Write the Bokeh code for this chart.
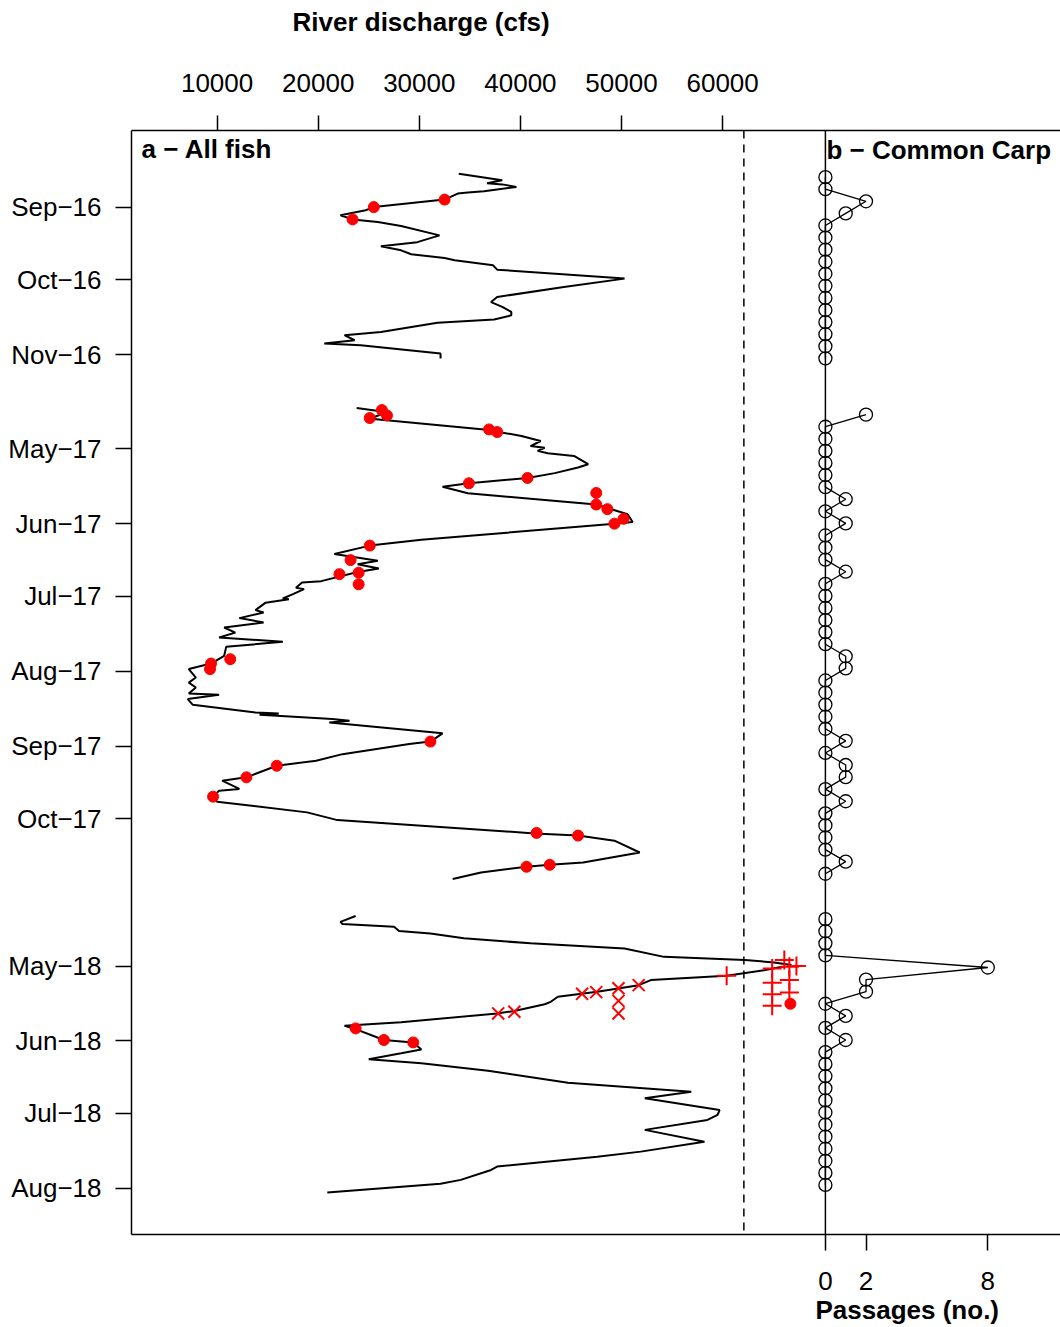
import pandas as pd
from bokeh.plotting import figure
from bokeh.models import Range1d, LinearAxis, FixedTicker, Span, Label, Title
from bokeh.embed import file_html
from bokeh.resources import INLINE

FONT = "Liberation Sans"
FSIZE = "26px"

# ---------------- data ----------------
# Each monitoring season is drawn on a compressed time axis; days are counted from the season anchor.
SEASON_ANCHOR = ["2016-09-01", "2017-05-01", "2018-05-01"]

TICK_SEASON = [0, 0, 0, 1, 1, 1, 1, 1, 1, 2, 2, 2, 2]
TICK_DATES = ["2016-09-01", "2016-10-01", "2016-11-01",
              "2017-05-01", "2017-06-01", "2017-07-01", "2017-08-01", "2017-09-01", "2017-10-01",
              "2018-05-01", "2018-06-01", "2018-07-01", "2018-08-01"]
TICK_LABELS = ["Sep\u221216", "Oct\u221216", "Nov\u221216",
               "May\u221217", "Jun\u221217", "Jul\u221217", "Aug\u221217", "Sep\u221217", "Oct\u221217",
               "May\u221218", "Jun\u221218", "Jul\u221218", "Aug\u221218"]

Q_TICKS = [10000, 20000, 30000, 40000, 50000, 60000]
N_TICKS = [0, 2, 8]
THRESHOLD_CFS = 62100

# river discharge (cfs), days from season anchor
S1_DAY = [-13.9, -11.2, -10.0, -9.5, -8.4, -6.7, -6.1, -5.7, -3.2, -0.1, 1.2, 3.3, 5.0, 6.1, 7.7,
          11.6, 14.4, 16.1, 17.8, 19.4, 21.0, 21.9, 24.0, 25.8, 29.5, 33.0, 37.1, 39.2, 41.2, 43.3,
          44.7, 46.4, 47.8, 51.6, 52.9, 55.0, 56.4, 57.1, 60.5, 62.6]
S1_Q = [33900, 38200, 36700, 38200, 39600, 36400, 34800, 33800, 32500, 25500, 24700, 22200, 23400, 25900, 28200,
        32000, 29800, 26200, 28200, 29200, 32500, 33500, 37300, 37700, 50300, 44300, 37700, 37100, 38200, 39100,
        39100, 37400, 31800, 26200, 22600, 23600, 20600, 24200, 32100, 32100]

S2_DAY = [-17.0, -15.3, -12.5, -8.1, -5.4, -3.3, -1.2, -0.5, 0.8, 1.8, 2.9, 6.3, 7.7, 10.0, 12.0,
          14.2, 15.6, 18.3, 20.6, 23.0, 27.0, 30.2, 30.9, 37.6, 40.0, 43.5, 46.3, 47.7, 49.5, 50.9,
          54.7, 55.3, 57.4, 58.0, 60.1, 61.9, 62.2, 63.6, 66.7, 67.7, 70.0, 71.8, 73.9, 76.0, 78.0,
          79.8, 81.9, 85.6, 88.8, 91.1, 94.6, 96.7, 98.7, 101.2, 101.7, 103.5, 105.9, 109.1, 109.5, 110.0,
          111.8, 112.5, 113.2, 117.7, 121.1, 122.1, 126.3, 129.0, 131.1, 135.9, 137.3, 140.7, 141.4, 143.9, 146.0,
          150.4, 153.6, 159.1, 160.0, 162.1, 167.0, 171.1, 172.1, 172.9, 175.3, 178.0]
S2_Q = [23800, 26700, 25200, 36400, 40100, 42000, 41000, 42400, 41700, 42700, 45300, 46700, 45700, 43400, 40700,
        34900, 32300, 34800, 41000, 47500, 50600, 51100, 49300, 30200, 25100, 21600, 25900, 23900, 26000, 23900,
        20300, 18400, 17800, 18600, 17500, 16500, 17100, 14800, 13800, 14600, 12200, 14600, 10700, 11800, 10200,
        16500, 10900, 10700, 9400, 7200, 7900, 7200, 7900, 7200, 10200, 7100, 7600, 13800, 16100, 14200,
        21400, 23100, 21100, 32300, 31100, 29000, 22400, 19800, 15900, 12900, 10500, 12200, 10200, 9600, 10000,
        18900, 21900, 41400, 45700, 49300, 51800, 46200, 42900, 40600, 36100, 33300]

S3_DAY = [-20.7, -18.3, -17.4, -16.3, -14.5, -13.5, -11.5, -9.4, -7.3, -3.8, -2.5, -1.5, -0.4, 1.7, 4.0,
          5.8, 7.9, 10.6, 12.7, 14.8, 15.8, 18.6, 19.6, 23.3, 24.7, 26.1, 30.6, 31.6, 34.5, 36.1,
          38.6, 40.2, 43.3, 48.3, 52.0, 54.7, 59.6, 61.6, 63.7, 67.8, 72.7, 76.8, 78.9, 83.0, 84.4,
          88.5, 90.1, 93.7]
S3_Q = [23700, 22200, 22400, 27500, 28000, 31100, 34400, 41000, 50300, 54200, 62200, 65100, 66800, 64100, 60400,
        52900, 51700, 47600, 43700, 43000, 42400, 39400, 37700, 28200, 22600, 23700, 26500, 29400, 30200, 28200,
        25000, 30200, 36800, 44700, 56900, 52300, 59700, 59500, 58500, 52300, 58200, 51900, 47600, 37700, 37100,
        34100, 32100, 20900]

# fish passages (all fish): season index, day, discharge
DOT_SEASON = [0, 0, 0] + [1] * 28 + [2] * 4
DOT_DAY = [-3.2, -0.1, 5.0,
           -16.1, -13.9, -12.8, -8.1, -7.0, 12.0, 14.2, 18.2, 23.0, 24.9, 28.9, 30.9, 40.0, 46.0,
           51.2, 51.8, 56.0, 87.0, 88.8, 91.1, 121.1, 131.1, 135.9, 143.9, 158.9, 160.0, 172.9, 172.1,
           25.8, 30.6, 31.6, 15.6]
DOT_Q = [32500, 25500, 23400,
         26300, 26800, 25100, 36900, 37700, 40700, 34900, 47500, 47500, 48600, 50200, 49300, 25100, 23200,
         24000, 22100, 24000, 11300, 9400, 9300, 31100, 15900, 12900, 9600, 41600, 45700, 40600, 42900,
         23700, 26500, 29400, 66700]

X_DAY = [19.6, 18.9, 11.5, 10.8, 9.2, 14.4, 19.6, 7.9]          # season 3
X_Q = [37800, 39400, 46100, 47500, 49700, 49700, 49700, 51700]

PLUS_DAY = [4.0, 1.0, 6.9, 11.7, 16.4, 0.3, 5.8, 10.9, -2.5, 0.0]  # season 3
PLUS_Q = [60400, 64900, 64900, 64900, 64900, 66600, 66600, 66600, 66100, 67300]

# Common Carp passages per 5-day bin; first bin start (days from season anchor)
BIN_DAYS = 5
CARP_FIRST_BIN = [-12.5, -14.2, -19.4]
CARP_S1 = [0, 0, 2, 1, 0, 0, 0, 0, 0, 0, 0, 0, 0, 0, 0, 0]
CARP_S2 = [2, 0, 0, 0, 0, 0, 0, 1, 0, 1, 0, 0, 0, 1, 0, 0, 0, 0, 0, 0, 1, 1, 0, 0, 0, 0, 0, 1, 0, 1,
           1, 0, 1, 0, 0, 0, 0, 1, 0]
CARP_S3 = [0, 0, 0, 0, 8, 2, 2, 0, 1, 0, 1, 0, 0, 0, 0, 0, 0, 0, 0, 0, 0, 0, 0]

# ---------------- layout helpers ----------------
SEASON_OFFSET = [0, 100, 314]   # position of each season anchor on the compressed axis


def ypos(season, day):
    return SEASON_OFFSET[season] + day


tick_pos = [int((pd.Timestamp(d) - pd.Timestamp(SEASON_ANCHOR[s])).days + SEASON_OFFSET[s])
            for s, d in zip(TICK_SEASON, TICK_DATES)]

p = figure(width=1060, height=1327, output_backend="svg", toolbar_location=None,
           x_range=Range1d(1534, 93417), y_range=Range1d(425.1, -31.8),
           x_axis_location=None, y_axis_location=None,
           min_border_left=131, min_border_right=0, min_border_top=130, min_border_bottom=93,
           background_fill_color="white", border_fill_color="white", outline_line_color=None)
p.title = None
p.extra_x_ranges = {"n": Range1d(-34.18, 11.58)}
p.grid.visible = False

axis_style = dict(axis_line_color="black", axis_line_width=1.5, major_tick_line_color="black",
                  major_tick_line_width=1.5, major_tick_in=0, minor_tick_line_color=None,
                  major_label_text_font=FONT, major_label_text_font_size=FSIZE,
                  major_label_text_color="black")

top_axis = LinearAxis(ticker=FixedTicker(ticks=Q_TICKS), major_tick_out=15, major_label_standoff=24,
                      major_label_overrides={v: str(v) for v in Q_TICKS}, **axis_style)
p.add_layout(top_axis, "above")

# blank spacer band between the discharge tick labels and the heading (white tick, no label)
spacer = LinearAxis(ticker=FixedTicker(ticks=[Q_TICKS[0]]), major_tick_out=29, major_tick_in=0,
                    major_label_standoff=0, major_label_overrides={Q_TICKS[0]: ""},
                    major_label_text_font_size="1px", major_label_text_color=None,
                    axis_line_color=None, major_tick_line_color="white", minor_tick_line_color=None)
p.add_layout(spacer, "above")

title_style = dict(text_font=FONT, text_font_size=FSIZE, text_font_style="bold", text_color="black",
                   align="left")
p.add_layout(Title(text="River discharge (cfs)", offset=161, standoff=9, **title_style), "above")

left_axis = LinearAxis(ticker=FixedTicker(ticks=tick_pos), major_tick_out=16, major_label_standoff=14,
                       major_label_overrides={t: l for t, l in zip(tick_pos, TICK_LABELS)}, **axis_style)
p.add_layout(left_axis, "left")

bottom_axis = LinearAxis(x_range_name="n", ticker=FixedTicker(ticks=N_TICKS), major_tick_out=16,
                         major_label_standoff=21,
                         major_label_overrides={v: str(v) for v in N_TICKS}, **axis_style)
p.add_layout(bottom_axis, "below")
p.add_layout(Title(text="Passages (no.)", offset=684, standoff=1, **title_style), "below")

# separators
p.add_layout(Span(location=THRESHOLD_CFS, dimension="height", line_color="black",
                  line_width=1.5, line_dash="8 6"))
p.add_layout(Span(location=0, dimension="height", x_range_name="n", line_color="black", line_width=1.5))

# discharge lines
for s, (days, q) in enumerate([(S1_DAY, S1_Q), (S2_DAY, S2_Q), (S3_DAY, S3_Q)]):
    p.line(x=q, y=[ypos(s, d) for d in days], line_color="black", line_width=2)

# fish markers
p.scatter(x=DOT_Q, y=[ypos(s, d) for s, d in zip(DOT_SEASON, DOT_DAY)], marker="circle",
          size=11, fill_color="red", line_color="red")
p.scatter(x=X_Q, y=[ypos(2, d) for d in X_DAY], marker="x", size=17, line_color="red", line_width=2)
p.scatter(x=PLUS_Q, y=[ypos(2, d) for d in PLUS_DAY], marker="cross", size=19, line_color="red",
          line_width=2)

# common carp passages
for s, vals in enumerate([CARP_S1, CARP_S2, CARP_S3]):
    ys = [ypos(s, CARP_FIRST_BIN[s] + BIN_DAYS * i) for i in range(len(vals))]
    p.line(x=vals, y=ys, x_range_name="n", line_color="black", line_width=1.3)
    p.scatter(x=vals, y=ys, x_range_name="n", marker="circle", size=13, fill_alpha=0,
              line_color="black", line_width=1.3)

# panel labels
lab = dict(text_font=FONT, text_font_size=FSIZE, text_font_style="bold", text_color="black",
           text_baseline="middle")
p.add_layout(Label(x=2523, y=-24.0, text="a \u2212 All fish", text_align="left", **lab))
p.add_layout(Label(x=0.05, y=-23.6, x_range_name="n", text="b \u2212 Common Carp", text_align="left", **lab))

open("out.html", "w").write(file_html(p, INLINE))
